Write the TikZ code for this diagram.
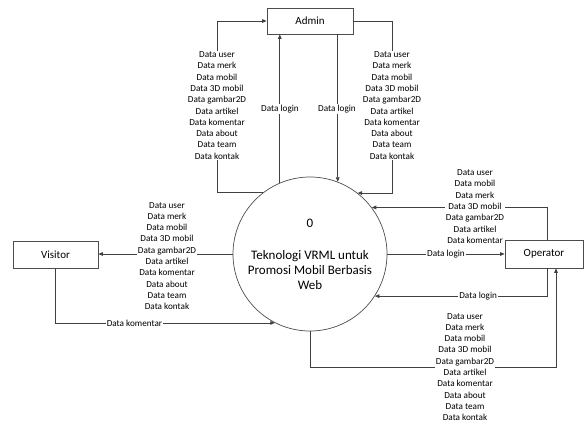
\documentclass[tikz,border=0pt]{standalone}
\usepackage{fontspec}
\setmainfont{Carlito}
\usetikzlibrary{arrows.meta}
\begin{document}
\begin{tikzpicture}[x=1pt,y=-1pt,
  line/.style={draw=black!75, line width=0.7pt},
  flow/.style={line, -{Triangle[length=4.5pt,width=3.6pt]}},
  entity/.style={draw=black!70, line width=0.8pt, fill=white, rectangle, inner sep=0pt, font=\fontsize{11}{13}\selectfont},
  proc/.style={draw=black!70, line width=0.7pt, circle, minimum size=154pt, inner sep=0pt},
  lbl/.style={fill=white, inner sep=1pt, align=center, font=\fontsize{9.2}{11.3}\selectfont},
  ptext/.style={align=center, inner sep=0pt, font=\fontsize{13}{15}\selectfont}]
\useasboundingbox (0,0) rectangle (585,423);
% nodes
\node[proc] (p) at (310,254) {};
\node[ptext] (pnum) at (310,223) {0};
\node[ptext] (pname) at (310,270) {Teknologi VRML untuk\\Promosi Mobil Berbasis\\Web};
\node[entity, minimum width=86pt, minimum height=26pt] (admin) at (310,21) {Admin};
\node[entity, minimum width=85pt, minimum height=27pt] (visitor) at (55.5,255) {Visitor};
\node[entity, minimum width=78pt, minimum height=28pt] (operator) at (544,254) {Operator};
% coordinates
\coordinate (lA) at (217,100);
\coordinate (rA) at (392,100);
\coordinate (oT) at (547,268);
\coordinate (oTop) at (547,240);
\coordinate (bR) at (556,367);
% Admin loops
\draw[flow] (p.127.6) -| (lA) |- (admin.west);
\draw[flow] (p.113) -- (p.113 |- admin.south);
\draw[flow] (p.69.5 |- admin.south) -- (p.69.5);
\draw[flow] (admin.east) -| (rA) |- (p.52.4);
\node[lbl] (la) at (217,105.5) {Data user\\Data merk\\Data mobil\\Data 3D mobil\\Data gambar2D\\Data artikel\\Data komentar\\Data about\\Data team\\Data kontak};
\node[lbl] (ra) at (392,105.5) {Data user\\Data merk\\Data mobil\\Data 3D mobil\\Data gambar2D\\Data artikel\\Data komentar\\Data about\\Data team\\Data kontak};
\node[lbl] (l1) at (280,109) {Data login};
\node[lbl] (l2) at (337,109) {Data login};
% Visitor
\draw[flow] (p.west) -- (p.west -| visitor.east);
\node[lbl] (lv) at (167,256) {Data user\\Data merk\\Data mobil\\Data 3D mobil\\Data gambar2D\\Data artikel\\Data komentar\\Data about\\Data team\\Data kontak};
\draw[flow] (visitor.south) |- node[lbl, pos=0.68] (lk) {Data komentar} (p.243.8);
% Operator
\draw[flow] (oTop) |- (p.37.6);
\node[lbl] (lo) at (475,206.5) {Data user\\Data mobil\\Data merk\\Data 3D mobil\\Data gambar2D\\Data artikel\\Data komentar};
\draw[flow] (p.east) -- node[lbl, pos=0.5] (l3) {Data login} (operator.west);
\draw[flow] (oT) |- node[lbl, pos=0.7] (l4) {Data login} (p.-33.9);
\draw[flow] (p.south) |- (bR) -- (bR |- operator.south);
\node[lbl] (lb) at (465,367) {Data user\\Data merk\\Data mobil\\Data 3D mobil\\Data gambar2D\\Data artikel\\Data komentar\\Data about\\Data team\\Data kontak};
\end{tikzpicture}
\end{document}
